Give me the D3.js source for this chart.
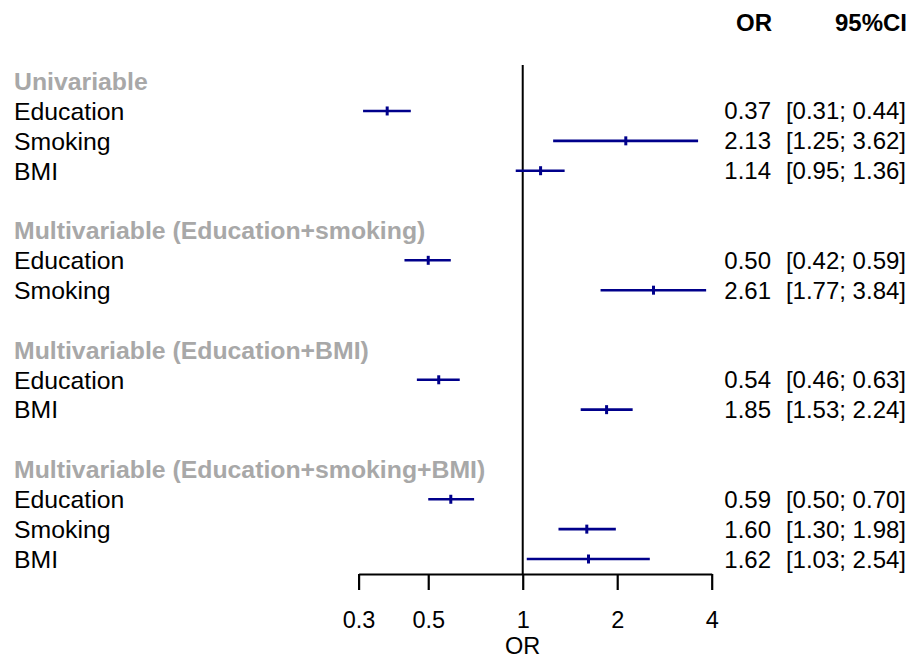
<!DOCTYPE html>
<html>
<head>
<meta charset="utf-8">
<script src="https://cdn.jsdelivr.net/npm/d3@7"></script>
<style>
  html, body { margin: 0; padding: 0; background: #fff; }
  svg { display: block; font-family: "Liberation Sans", Arial, sans-serif; }
</style>
</head>
<body>
<svg id="chart" width="911" height="659"></svg>
<script>
// ---- data ----
const rowLabels = [
  "Univariable", "Education", "Smoking", "BMI", "",
  "Multivariable (Education+smoking)", "Education", "Smoking", "",
  "Multivariable (Education+BMI)", "Education", "BMI", "",
  "Multivariable (Education+smoking+BMI)", "Education", "Smoking", "BMI"
];
const rowIsHeader = [1,0,0,0,0, 1,0,0,0, 1,0,0,0, 1,0,0,0];
const orValues = [null, 0.37, 2.13, 1.14, null, null, 0.50, 2.61, null, null, 0.54, 1.85, null, null, 0.59, 1.60, 1.62];
const ciLower  = [null, 0.31, 1.25, 0.95, null, null, 0.42, 1.77, null, null, 0.46, 1.53, null, null, 0.50, 1.30, 1.03];
const ciUpper  = [null, 0.44, 3.62, 1.36, null, null, 0.59, 3.84, null, null, 0.63, 2.24, null, null, 0.70, 1.98, 2.54];
const tickValues = [0.3, 0.5, 1, 2, 4];
const columnHeaders = ["OR", "95%CI"];
const axisTitle = "OR";

// ---- layout ----
const svg = d3.select("#chart");
const x = d3.scaleLog().domain([0.3, 4]).range([358.6, 711.7]);
const y = d3.scalePoint().domain(d3.range(rowLabels.length)).range([81.1, 559]);
const fsL = 24.8, fsR = 24, fsA = 23.5;
const navy = "#00008B";

// column headers
svg.append("text").attr("x", 772).attr("y", 31).attr("text-anchor", "end")
  .attr("font-size", fsR).attr("font-weight", "bold").attr("fill", "#000").text(columnHeaders[0]);
svg.append("text").attr("x", 907).attr("y", 31).attr("text-anchor", "end")
  .attr("font-size", fsR).attr("font-weight", "bold").attr("fill", "#000").text(columnHeaders[1]);

// row labels
const idx = d3.range(rowLabels.length);
svg.append("g").selectAll("text").data(idx.filter(i => rowLabels[i] !== "")).join("text")
  .attr("x", 14).attr("y", i => y(i) + 8.8)
  .attr("font-size", fsL)
  .attr("font-weight", i => rowIsHeader[i] ? "bold" : "normal")
  .attr("fill", i => rowIsHeader[i] ? "#A8A8A8" : "#000")
  .text(i => rowLabels[i]);

const dataIdx = idx.filter(i => orValues[i] != null);

// reference line at 1
svg.append("line").attr("x1", x(1)).attr("x2", x(1)).attr("y1", 65).attr("y2", 574)
  .attr("stroke", "#000").attr("stroke-width", 2);

// CI lines
svg.append("g").selectAll("line").data(dataIdx).join("line")
  .attr("x1", i => x(ciLower[i])).attr("x2", i => x(ciUpper[i]))
  .attr("y1", i => y(i)).attr("y2", i => y(i))
  .attr("stroke", navy).attr("stroke-width", 2.6);
// point estimates
svg.append("g").selectAll("line").data(dataIdx).join("line")
  .attr("x1", i => x(orValues[i])).attr("x2", i => x(orValues[i]))
  .attr("y1", i => y(i) - 4.5).attr("y2", i => y(i) + 4.5)
  .attr("stroke", navy).attr("stroke-width", 3);

// value text
svg.append("g").selectAll("text").data(dataIdx).join("text")
  .attr("x", 771).attr("y", i => y(i) + 8.5).attr("text-anchor", "end")
  .attr("font-size", fsR).attr("fill", "#000")
  .text(i => orValues[i].toFixed(2));
svg.append("g").selectAll("text").data(dataIdx).join("text")
  .attr("x", 906).attr("y", i => y(i) + 8.5).attr("text-anchor", "end")
  .attr("font-size", fsR).attr("fill", "#000")
  .text(i => "[" + ciLower[i].toFixed(2) + "; " + ciUpper[i].toFixed(2) + "]");

// x axis
const axis = d3.axisBottom(x).tickValues(tickValues).tickFormat(d3.format("")).tickSize(16).tickPadding(21).tickSizeOuter(0);
const gx = svg.append("g").attr("transform", "translate(0,574)").call(axis);
gx.select(".domain").attr("stroke", "#000").attr("stroke-width", 2.2);
gx.selectAll(".tick line").attr("stroke", "#000").attr("stroke-width", 2.2);
gx.selectAll(".tick text").attr("font-size", fsA).attr("fill", "#000")
  .attr("font-family", "Liberation Sans, Arial, sans-serif");

svg.append("text").attr("x", x(1)).attr("y", 654).attr("text-anchor", "middle")
  .attr("font-size", fsA).attr("fill", "#000").text(axisTitle);
</script>
</body>
</html>
